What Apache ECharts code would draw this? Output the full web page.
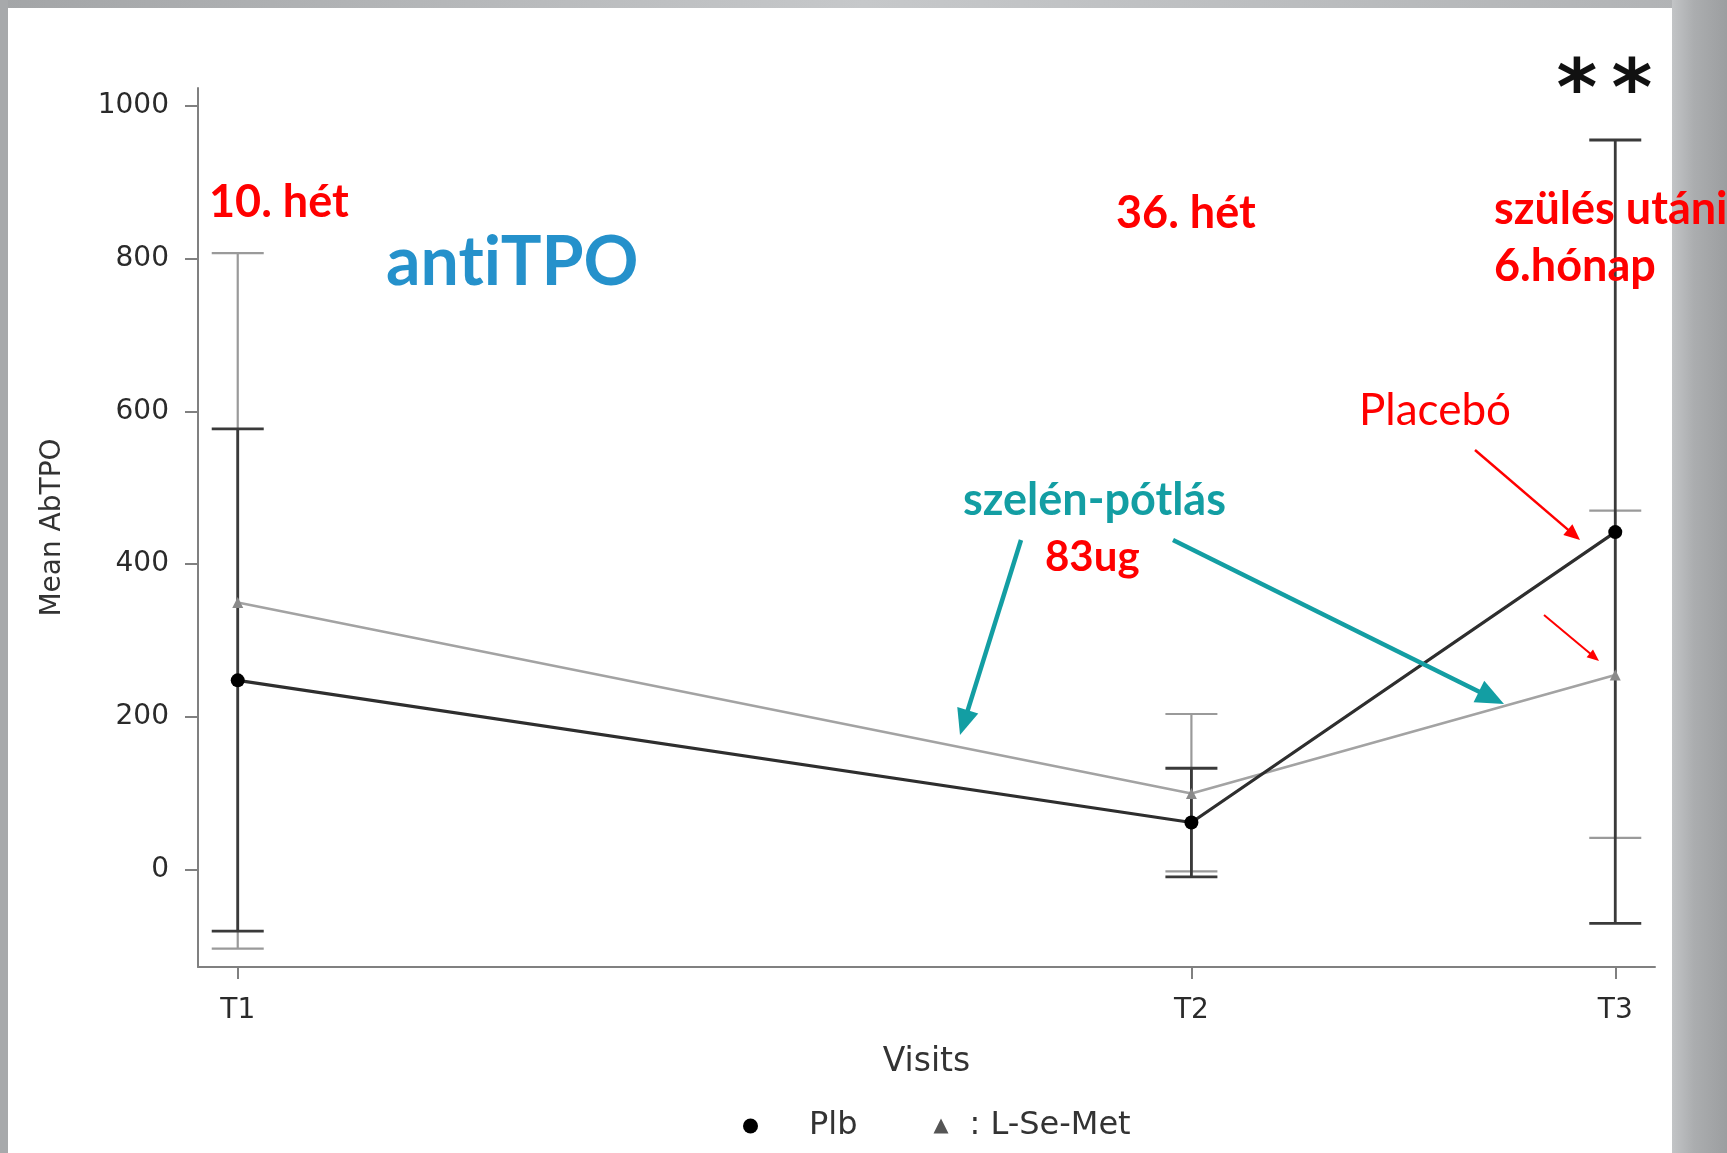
<!DOCTYPE html>
<html>
<head>
<meta charset="utf-8">
<script src="https://cdn.jsdelivr.net/npm/echarts@6.0.0/dist/echarts.min.js"></script>
<style>
html,body{margin:0;padding:0;background:#fff;}
#chart{width:1727px;height:1153px;}
</style>
</head>
<body>
<div id="chart"></div>
<script>
// ---- data ----
const visits    = ['T1', 'T2', 'T3'];
const visitPos  = [0, 9, 13];          // uneven spacing of the visits on the x axis
const plbMean   = [248, 62, 442];
const plbUpper  = [577, 133, 955];
const plbLower  = [-80, -9, -70];
const lsmMean   = [350, 100, 255];
const lsmUpper  = [807, 204, 470];
const lsmLower  = [-103, -2, 42];
const yTicks    = [0, 200, 400, 600, 800, 1000];
const seriesNames = ['Plb', 'L-Se-Met'];

const chart = echarts.init(document.getElementById('chart'), null, {renderer: 'canvas'});

const plbLine = visitPos.map((x, i) => [x, plbMean[i]]);
const lsmLine = visitPos.map((x, i) => [x, lsmMean[i]]);
const plbErr  = visitPos.map((x, i) => [x, plbLower[i], plbUpper[i]]);
const lsmErr  = visitPos.map((x, i) => [x, lsmLower[i], lsmUpper[i]]);

function errRender(color, width) {
  return function (params, api) {
    const x = api.value(0), lo = api.value(1), hi = api.value(2);
    const pHi = api.coord([x, hi]);
    const pLo = api.coord([x, lo]);
    const hw = 26;
    const style = {stroke: color, lineWidth: width};
    return {
      type: 'group',
      children: [
        {type: 'line', shape: {x1: pHi[0], y1: pHi[1], x2: pLo[0], y2: pLo[1]}, style: style},
        {type: 'line', shape: {x1: pHi[0] - hw, y1: pHi[1], x2: pHi[0] + hw, y2: pHi[1]}, style: style},
        {type: 'line', shape: {x1: pLo[0] - hw, y1: pLo[1], x2: pLo[0] + hw, y2: pLo[1]}, style: style}
      ]
    };
  };
}

function arrow(x1, y1, x2, y2, color, lw, L, W) {
  const dx = x2 - x1, dy = y2 - y1;
  const len = Math.sqrt(dx * dx + dy * dy);
  const ux = dx / len, uy = dy / len;
  const bx = x2 - ux * L, by = y2 - uy * L;
  const nx = -uy, ny = ux;
  return [
    {type: 'line', z: 100, shape: {x1: x1, y1: y1, x2: bx + ux * 2, y2: by + uy * 2},
     style: {stroke: color, lineWidth: lw}},
    {type: 'polygon', z: 100, shape: {points: [[x2, y2], [bx + nx * W, by + ny * W], [bx - nx * W, by - ny * W]]},
     style: {fill: color}}
  ];
}

function label(text, x, y, size, weight, color, align) {
  return {
    type: 'text', z: 100, x: x, y: y,
    style: {
      text: text, fill: color,
      fontFamily: 'Lato', fontSize: size, fontWeight: weight,
      align: align || 'left', verticalAlign: 'middle'
    }
  };
}

const RED = '#ff0000';
const TEAL = '#139ea3';

const graphics = [
  // slide frame
  {type: 'rect', z: 0, shape: {x: 0, y: 0, width: 1727, height: 8},
   style: {fill: new echarts.graphic.LinearGradient(0, 0, 1, 0, [
     {offset: 0, color: '#a3a5a7'}, {offset: 0.5, color: '#c6c8ca'}, {offset: 1, color: '#b0b2b4'}])}},
  {type: 'rect', z: 0, shape: {x: 0, y: 0, width: 8, height: 1153}, style: {fill: '#a7a9ab'}},
  {type: 'rect', z: 0, shape: {x: 1672, y: 0, width: 55, height: 1153},
   style: {fill: new echarts.graphic.LinearGradient(0, 0, 1, 0, [
     {offset: 0, color: '#c2c4c6'}, {offset: 0.4, color: '#abadaf'}, {offset: 1, color: '#9c9ea0'}])}},
  // annotations
  label('10. hét', 209, 202, 45, 'bold', RED),
  label('ant\u200CiTPO', 386, 263, 68, 'bold', '#2591cb'),
  label('36. hét', 1116, 213, 45, 'bold', RED),
  label('szülés utáni', 1494, 209, 45, 'bold', RED),
  label('6.hónap', 1494, 266, 45, 'bold', RED),
  label('Placebó', 1359, 411, 44, 'normal', RED),
  label('szelén-pótlás', 963, 500, 45, 'bold', TEAL),
  label('83ug', 1045, 557, 42, 'bold', RED),
  {type: 'text', z: 100, x: 1577, y: 95,
   style: {text: '*', fill: '#111', fontFamily: 'DejaVu Sans', fontSize: 78, fontWeight: 'bold', align: 'center', verticalAlign: 'middle'}},
  {type: 'text', z: 100, x: 1632, y: 95,
   style: {text: '*', fill: '#111', fontFamily: 'DejaVu Sans', fontSize: 78, fontWeight: 'bold', align: 'center', verticalAlign: 'middle'}}
]
.concat(arrow(1021, 540, 960, 735, TEAL, 4.5, 26, 11))
.concat(arrow(1173, 540, 1504, 704, TEAL, 4.5, 28, 12))
.concat(arrow(1475, 450, 1580, 540, RED, 2.5, 16, 7))
.concat(arrow(1544, 615, 1599, 661, RED, 2, 12, 5));

const axisColor = '#808080';
const tickFont = {fontFamily: 'DejaVu Sans', fontSize: 28, color: '#2a2a2a'};

const option = {
  backgroundColor: '#ffffff',
  animation: false,
  grid: {left: 198, right: 72, top: 88, bottom: 186, containLabel: false},
  legend: {
    data: [
      {name: seriesNames[0], icon: 'circle', itemStyle: {color: '#000'}},
      {name: seriesNames[1], icon: 'triangle', itemStyle: {color: '#555'}}
    ],
    left: 743, top: 1110, padding: 0,
    itemWidth: 15, itemHeight: 15, itemGap: 76,
    selectedMode: false,
    formatter: function (n) { return n === seriesNames[0] ? '{g1|}' + n : '{g2|}: ' + n; },
    textStyle: {
      fontFamily: 'DejaVu Sans', fontSize: 32, color: '#333',
      rich: {g1: {width: 46}, g2: {width: 16}}
    }
  },
  xAxis: {
    type: 'value', min: -0.375, max: 13.375,
    name: 'Visits', nameLocation: 'middle', nameGap: 79,
    nameTextStyle: {fontFamily: 'DejaVu Sans', fontSize: 33, color: '#333'},
    axisLine: {show: true, onZero: false, lineStyle: {color: axisColor, width: 2}},
    axisTick: {show: true, customValues: visitPos, length: 12, lineStyle: {color: axisColor, width: 2}},
    axisLabel: Object.assign({customValues: visitPos, margin: 30,
      formatter: function (v) { const i = visitPos.indexOf(v); return i >= 0 ? visits[i] : ''; }}, tickFont),
    splitLine: {show: false}
  },
  yAxis: {
    type: 'value', min: -127, max: 1023,
    name: 'Mean AbTPO', nameLocation: 'middle', nameGap: 131, nameRotate: 90,
    nameTextStyle: {fontFamily: 'DejaVu Sans', fontSize: 28, color: '#333'},
    axisLine: {show: true, onZero: false, lineStyle: {color: axisColor, width: 2}},
    axisTick: {show: true, customValues: yTicks, length: 13, lineStyle: {color: axisColor, width: 2}},
    axisLabel: Object.assign({customValues: yTicks, margin: 29,
      formatter: function (v) { return String(v); }}, tickFont),
    splitLine: {show: false}
  },
  series: [
    {name: 'L-Se-Met SD', type: 'custom', renderItem: errRender('#9a9a9a', 2.2),
     encode: {x: 0, y: [1, 2]}, data: lsmErr, z: 2, silent: true},
    {name: 'Plb SD', type: 'custom', renderItem: errRender('#3a3a3a', 2.8),
     encode: {x: 0, y: [1, 2]}, data: plbErr, z: 3, silent: true},
    {name: seriesNames[1], type: 'line', data: lsmLine, symbol: 'triangle', symbolSize: 11,
     lineStyle: {color: '#a3a3a3', width: 2.5}, itemStyle: {color: '#8a8a8a'}, z: 4},
    {name: seriesNames[0], type: 'line', data: plbLine, symbol: 'circle', symbolSize: 14,
     lineStyle: {color: '#2e2e2e', width: 3.2}, itemStyle: {color: '#000'}, z: 5}
  ],
  graphic: graphics
};

chart.setOption(option);
</script>
</body>
</html>
